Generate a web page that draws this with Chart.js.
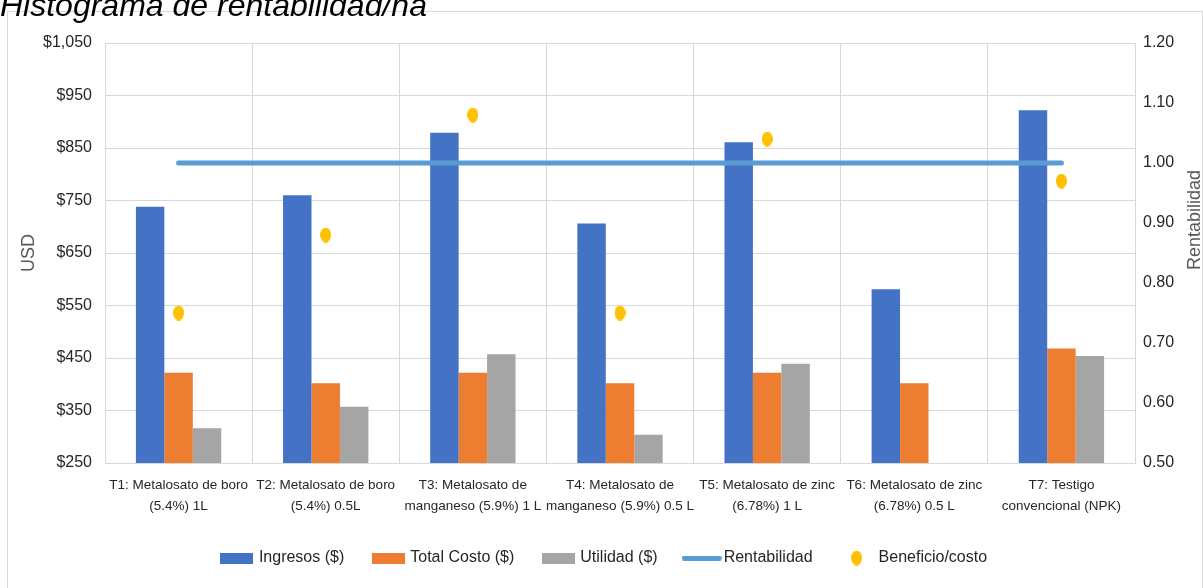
<!DOCTYPE html>
<html lang="es">
<head>
<meta charset="UTF-8">
<title>Histograma de rentabilidad/ha</title>
<script src="https://cdn.jsdelivr.net/npm/chart.js@4"></script>
<style>
    html, body { margin: 0; padding: 0; background: #ffffff; overflow: hidden; }
    body { width: 1203px; height: 588px; position: relative; }
    #titulo {
        position: absolute; left: 0; top: -11px; z-index: 2;
        font-family: "Liberation Sans", Arial, sans-serif; font-style: italic;
        font-size: 32px; line-height: 32px; color: #000000; white-space: nowrap;
    }
    #marco {
        position: absolute; left: 7px; top: 11px; width: 1194px; height: 600px;
        border: 1px solid #d9d9d9; background: #ffffff;
    }
    #grafico { display: block; }
</style>
</head>
<body>
<div id="titulo">Histograma de rentabilidad/ha</div>
<div id="marco"><canvas id="grafico" width="1194" height="576"></canvas></div>

<script>
// datos
const categorias = [
    ["T1: Metalosato de boro", "(5.4%) 1L"],
    ["T2: Metalosato de boro", "(5.4%) 0.5L"],
    ["T3: Metalosato de", "manganeso (5.9%) 1 L"],
    ["T4: Metalosato de", "manganeso (5.9%) 0.5 L"],
    ["T5: Metalosato de zinc", "(6.78%) 1 L"],
    ["T6: Metalosato de zinc", "(6.78%) 0.5 L"],
    ["T7: Testigo", "convencional (NPK)"]
];
const ingresos = [738, 760, 879, 706, 861, 581, 922];
const totalCosto = [422, 402, 422, 402, 422, 402, 468];
const utilidad = [316, 357, 457, 304, 439, null, 454];
const rentabilidad = [1.00, 1.00, 1.00, 1.00, 1.00, 1.00, 1.00];
const beneficioCosto = [0.75, 0.88, 1.08, 0.75, 1.04, null, 0.97];

const ticksUSD = [250, 350, 450, 550, 650, 750, 850, 950, 1050];
const ticksRent = [0.50, 0.60, 0.70, 0.80, 0.90, 1.00, 1.10, 1.20];

const fuente = "'Liberation Sans', Arial, sans-serif";
const colorTexto = "#262626";
const colorRejilla = "#d9d9d9";

// pequeños dibujos para la leyenda y los puntos
function hacerCaja(color, w, h) {
    const c = document.createElement("canvas");
    c.width = w; c.height = h;
    const ctx = c.getContext("2d");
    ctx.fillStyle = color;
    ctx.fillRect(0, 0, w, h);
    return c;
}
function hacerLinea(color, w, h) {
    const c = document.createElement("canvas");
    c.width = w; c.height = h;
    const ctx = c.getContext("2d");
    ctx.strokeStyle = color;
    ctx.lineWidth = h;
    ctx.lineCap = "round";
    ctx.beginPath();
    ctx.moveTo(h / 2, h / 2);
    ctx.lineTo(w - h / 2, h / 2);
    ctx.stroke();
    return c;
}
function hacerElipse(color, w, h) {
    const c = document.createElement("canvas");
    c.width = w; c.height = h;
    const ctx = c.getContext("2d");
    ctx.fillStyle = color;
    ctx.beginPath();
    ctx.ellipse(w / 2, h / 2, w / 2, h / 2, 0, 0, Math.PI * 2);
    ctx.fill();
    return c;
}

const puntoAmarillo = hacerElipse("#FFC000", 11, 15);
const iconos = [
    hacerCaja("#4472C4", 33, 11),
    hacerCaja("#ED7D31", 33, 11),
    hacerCaja("#A5A5A5", 33, 11),
    hacerLinea("#5B9BD5", 40, 5),
    puntoAmarillo
];

// titulo del eje derecho, un poco por encima del centro como en el original
const tituloDerecho = {
    id: "tituloDerecho",
    afterDraw(chart) {
        const ctx = chart.ctx;
        ctx.save();
        ctx.translate(1187, 208);
        ctx.rotate(-Math.PI / 2);
        ctx.font = "18px 'Liberation Sans', Arial, sans-serif";
        ctx.fillStyle = "#595959";
        ctx.textAlign = "center";
        ctx.textBaseline = "middle";
        ctx.fillText("Rentabilidad", 0, 0);
        ctx.restore();
    }
};

const ctx = document.getElementById("grafico").getContext("2d");

new Chart(ctx, {
    type: "bar",
    data: {
        labels: categorias,
        datasets: [
            { label: "Ingresos ($)", data: ingresos, backgroundColor: "#4472C4", yAxisID: "y", order: 2 },
            { label: "Total Costo ($)", data: totalCosto, backgroundColor: "#ED7D31", yAxisID: "y", order: 2 },
            { label: "Utilidad ($)", data: utilidad, backgroundColor: "#A5A5A5", yAxisID: "y", order: 2 },
            {
                type: "line", label: "Rentabilidad", data: rentabilidad, yAxisID: "y1", order: 1,
                borderColor: "#5B9BD5", backgroundColor: "#5B9BD5", borderWidth: 5,
                borderCapStyle: "round", pointRadius: 0, fill: false
            },
            {
                type: "line", label: "Beneficio/costo", data: beneficioCosto, yAxisID: "y1", order: 0,
                showLine: false, pointStyle: puntoAmarillo, pointRadius: 6,
                borderColor: "#FFC000", backgroundColor: "#FFC000"
            }
        ]
    },
    options: {
        responsive: false,
        animation: false,
        devicePixelRatio: 1,
        layout: { padding: { top: 31, left: 0, right: 0, bottom: 12 } },
        datasets: { bar: { categoryPercentage: 0.58, barPercentage: 1.0 } },
        plugins: {
            tooltip: { enabled: false },
            legend: {
                position: "bottom",
                labels: {
                    usePointStyle: true,
                    pointStyleWidth: 28,
                    padding: 30,
                    color: colorTexto,
                    font: { family: fuente, size: 16 },
                    generateLabels(chart) {
                        return chart.data.datasets.map((ds, i) => ({
                            text: ds.label,
                            datasetIndex: i,
                            pointStyle: iconos[i],
                            fontColor: colorTexto,
                            hidden: false,
                            lineWidth: 0
                        }));
                    }
                }
            }
        },
        scales: {
            x: {
                grid: { color: colorRejilla, drawTicks: false, offset: true },
                border: { color: colorRejilla },
                ticks: {
                    color: colorTexto, padding: 11, maxRotation: 0, autoSkip: false,
                    font: { family: fuente, size: 13.5, lineHeight: 1.6 }
                },
                afterFit(scale) { scale.height = 57; }
            },
            y: {
                position: "left",
                min: 250, max: 1050,
                afterBuildTicks(scale) { scale.ticks = ticksUSD.map(v => ({ value: v })); },
                grid: { color: colorRejilla, drawTicks: false },
                border: { color: colorRejilla },
                ticks: {
                    color: colorTexto, padding: 13,
                    font: { family: fuente, size: 16 },
                    callback: v => "$" + v.toLocaleString("en-US")
                },
                title: {
                    display: true, text: "USD", color: "#595959", padding: { top: 10, bottom: 0 },
                    font: { family: fuente, size: 18 }
                },
                afterFit(scale) { scale.width = 97; }
            },
            y1: {
                position: "right",
                min: 0.5, max: 1.2,
                afterBuildTicks(scale) { scale.ticks = ticksRent.map(v => ({ value: v })); },
                grid: { drawOnChartArea: false, drawTicks: false },
                border: { color: colorRejilla },
                ticks: {
                    color: colorTexto, padding: 8,
                    font: { family: fuente, size: 16 },
                    callback: v => v.toFixed(2)
                },
                afterFit(scale) { scale.width = 67; }
            }
        }
    },
    plugins: [tituloDerecho]
});
</script>
</body>
</html>
